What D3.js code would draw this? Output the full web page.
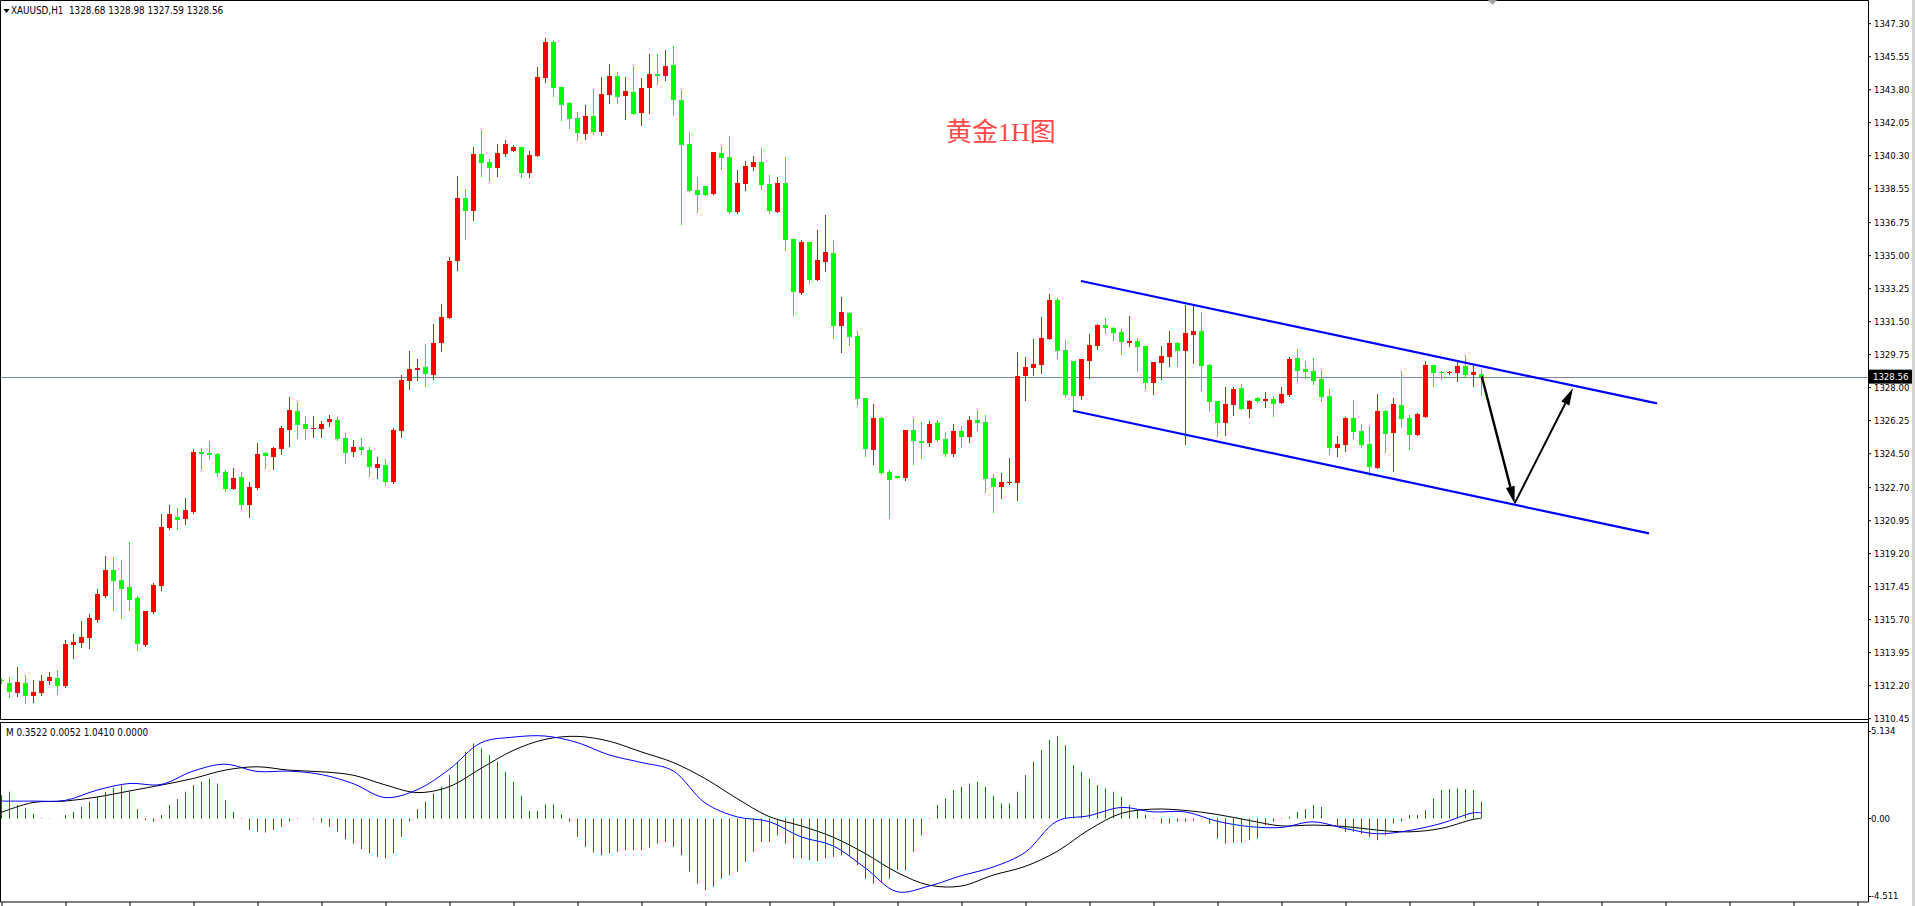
<!DOCTYPE html>
<html>
<head>
<meta charset="utf-8">
<script src="https://cdn.jsdelivr.net/npm/d3@7"></script>
<style>
html, body { margin: 0; padding: 0; background: #fff; overflow: hidden; }
svg { display: block; }
text { font-family: "DejaVu Sans Condensed", "Liberation Sans", sans-serif; }
</style>
</head>
<body>
<svg id="chart"></svg>
<script>
// XAUUSD H1 candles (red = up, green = down)
const opens = [
  1312.50,1312.31,1311.80,1312.31,1311.64,1311.80,1312.44,1312.58,1312.17,1314.35,
  1314.45,1314.72,1315.67,1316.94,1318.31,1317.78,1317.40,1316.82,1314.33,1316.08,
  1317.46,1320.53,1321.12,1321.01,1321.38,1324.56,1324.51,1324.46,1323.50,1322.60,
  1323.24,1321.75,1322.65,1324.51,1324.30,1324.72,1325.73,1326.74,1326.05,1325.78,
  1325.78,1326.15,1326.26,1325.30,1324.56,1324.83,1324.67,1323.71,1323.90,1323.00,
  1325.68,1328.33,1328.93,1329.07,1328.65,1330.34,1331.67,1334.69,1338.03,1337.34,
  1340.37,1339.94,1339.62,1340.37,1340.52,1340.74,1339.36,1340.26,1344.40,1346.30,
  1343.92,1343.07,1342.27,1341.42,1342.38,1341.53,1343.49,1344.50,1343.44,1343.65,
  1342.54,1343.86,1344.61,1344.50,1345.08,1343.23,1340.90,1338.46,1338.67,1338.24,
  1340.42,1340.21,1337.29,1338.77,1339.68,1339.96,1338.78,1337.29,1338.83,1335.86,
  1333.00,1335.70,1333.69,1334.64,1335.12,1331.25,1331.94,1330.72,1327.43,1324.67,
  1326.37,1323.51,1323.29,1323.19,1325.73,1325.15,1325.04,1326.10,1325.26,1324.46,
  1325.68,1325.36,1326.26,1326.16,1323.19,1322.71,1322.92,1322.92,1328.60,1329.02,
  1329.18,1330.56,1332.63,1329.97,1329.39,1327.53,1329.40,1330.20,1331.31,1331.15,
  1330.94,1330.36,1330.45,1330.18,1328.24,1329.30,1329.62,1330.34,1329.93,1330.78,
  1330.98,1329.17,1327.26,1326.12,1327.05,1327.95,1326.84,1327.44,1327.28,1327.37,
  1327.18,1327.58,1329.54,1328.96,1328.87,1328.43,1327.53,1324.79,1324.93,1326.38,
  1325.69,1325.00,1323.73,1326.75,1325.59,1327.05,1326.36,1325.48,1326.43,1329.17,
  1328.82,1328.73,1328.77,1329.12,1328.66,1328.68
];
const highs = [
  1312.60,1312.63,1313.16,1312.74,1312.47,1312.74,1312.90,1313.00,1314.59,1314.91,
  1315.60,1315.97,1317.30,1319.05,1319.00,1318.84,1319.79,1316.93,1316.15,1317.62,
  1321.27,1321.75,1321.59,1322.12,1324.72,1324.77,1325.15,1324.51,1323.61,1323.71,
  1323.50,1322.97,1325.04,1324.56,1324.83,1325.94,1327.48,1327.21,1326.47,1326.47,
  1326.21,1326.52,1326.42,1325.57,1325.20,1325.30,1324.83,1324.30,1324.20,1325.84,
  1328.65,1329.92,1329.50,1330.29,1331.35,1332.41,1334.90,1339.20,1338.51,1340.74,
  1341.64,1340.10,1340.90,1341.11,1340.84,1340.76,1340.52,1344.98,1346.52,1346.41,
  1343.94,1343.12,1342.59,1342.96,1343.81,1344.45,1345.14,1344.71,1344.45,1345.03,
  1344.40,1345.67,1345.67,1345.88,1346.09,1343.76,1341.53,1339.15,1338.69,1340.49,
  1340.79,1341.32,1339.52,1339.99,1340.26,1340.69,1339.25,1339.15,1340.21,1335.88,
  1335.81,1335.72,1336.34,1337.13,1335.81,1332.79,1331.99,1330.98,1327.45,1327.11,
  1326.42,1323.61,1323.31,1325.75,1326.37,1326.16,1326.21,1326.26,1325.63,1326.05,
  1325.95,1326.48,1326.79,1326.53,1323.40,1323.45,1324.25,1329.87,1329.60,1330.56,
  1331.73,1332.94,1332.73,1330.50,1329.41,1329.51,1330.82,1331.35,1331.67,1331.19,
  1331.06,1331.79,1330.62,1330.20,1329.35,1330.20,1330.96,1330.39,1332.35,1332.35,
  1331.97,1329.23,1327.28,1328.02,1328.02,1328.18,1327.30,1327.46,1327.76,1327.55,
  1328.02,1329.62,1330.02,1329.39,1329.54,1328.91,1327.92,1325.43,1326.40,1327.34,
  1326.06,1325.96,1327.64,1326.77,1327.44,1328.87,1326.52,1326.61,1329.40,1329.19,
  1328.87,1328.84,1329.33,1329.72,1329.16,1328.98
];
const lows = [
  1312.30,1311.57,1311.64,1311.27,1311.32,1311.70,1312.28,1311.75,1312.12,1313.66,
  1314.24,1314.19,1315.57,1316.90,1316.20,1315.78,1316.20,1314.08,1314.29,1316.05,
  1317.26,1320.50,1320.48,1320.74,1321.35,1323.66,1324.19,1323.29,1322.49,1322.58,
  1321.54,1321.12,1322.62,1323.71,1323.66,1324.46,1324.88,1325.30,1325.25,1325.36,
  1325.36,1325.94,1325.20,1323.98,1324.35,1324.46,1323.29,1323.18,1322.80,1322.90,
  1325.36,1327.90,1328.38,1328.06,1328.43,1329.92,1331.65,1334.22,1335.86,1336.87,
  1339.20,1338.93,1339.20,1340.26,1340.50,1339.15,1339.15,1340.24,1344.18,1343.44,
  1342.17,1341.74,1341.11,1341.16,1341.42,1341.37,1343.07,1343.07,1342.22,1342.47,
  1341.90,1342.54,1344.08,1344.29,1342.43,1336.65,1338.38,1337.29,1338.17,1338.22,
  1339.57,1337.24,1337.24,1338.46,1339.52,1338.51,1337.24,1337.27,1335.28,1331.83,
  1332.94,1333.53,1333.67,1334.16,1330.61,1329.87,1330.24,1327.06,1324.35,1323.93,
  1323.40,1321.07,1323.17,1323.08,1323.93,1324.25,1324.88,1325.15,1324.35,1324.35,
  1324.83,1325.10,1325.73,1322.45,1321.39,1322.13,1322.87,1322.02,1327.32,1328.65,
  1328.76,1330.54,1329.55,1327.49,1326.75,1327.37,1328.50,1330.04,1330.89,1330.52,
  1329.77,1330.20,1328.87,1327.92,1327.65,1328.45,1329.14,1329.14,1325.00,1329.30,
  1327.87,1326.75,1325.43,1325.48,1326.54,1326.84,1326.42,1327.24,1326.96,1326.49,
  1327.16,1327.55,1328.34,1328.50,1328.18,1327.28,1324.47,1324.37,1324.63,1325.32,
  1324.84,1323.36,1323.71,1324.58,1323.57,1325.90,1324.74,1325.46,1326.41,1328.08,
  1328.45,1328.71,1328.34,1328.55,1328.08,1327.59
];
const closes = [
  1312.42,1311.85,1312.37,1311.64,1311.84,1312.42,1312.63,1312.17,1314.38,1314.49,
  1314.75,1315.76,1317.03,1318.31,1317.74,1317.30,1316.71,1314.38,1316.13,1317.51,
  1320.59,1321.27,1320.96,1321.49,1324.56,1324.46,1324.40,1323.45,1322.60,1323.18,
  1321.75,1322.71,1324.46,1324.35,1324.77,1325.83,1326.79,1326.00,1325.78,1325.83,
  1326.05,1326.31,1325.25,1324.51,1324.83,1324.67,1323.77,1323.93,1323.00,1325.73,
  1328.38,1328.97,1329.02,1328.70,1330.34,1331.72,1334.69,1338.03,1337.34,1340.37,
  1339.91,1339.62,1340.42,1340.90,1340.74,1339.36,1340.31,1344.45,1346.30,1343.86,
  1342.96,1342.22,1341.48,1342.38,1341.53,1343.55,1344.50,1343.39,1343.71,1342.49,
  1343.86,1344.61,1344.50,1345.03,1343.23,1340.84,1338.40,1338.19,1338.19,1340.47,
  1340.15,1337.29,1338.83,1339.73,1339.94,1338.72,1337.35,1338.83,1335.81,1333.05,
  1335.70,1333.69,1334.75,1335.17,1331.25,1331.99,1330.66,1327.38,1324.73,1326.37,
  1323.45,1323.08,1323.19,1325.73,1325.15,1325.04,1326.05,1325.20,1324.46,1325.68,
  1325.36,1326.26,1326.10,1323.14,1322.71,1322.98,1322.98,1328.60,1329.07,1329.23,
  1330.61,1332.63,1329.92,1327.58,1327.53,1329.49,1330.23,1331.31,1331.15,1330.89,
  1330.41,1330.45,1330.15,1328.24,1329.33,1329.65,1330.34,1329.93,1330.85,1330.98,
  1329.14,1327.23,1326.10,1327.11,1327.90,1326.86,1327.28,1327.28,1327.39,1327.12,
  1327.64,1329.51,1328.87,1328.82,1328.34,1327.49,1324.79,1325.00,1326.38,1325.64,
  1324.93,1323.78,1326.75,1325.53,1327.12,1326.33,1325.48,1326.59,1329.17,1328.77,
  1328.77,1328.82,1329.12,1328.64,1328.82,1328.56
];
const lastPrice = 1328.56;
const priceTicks = ["1347.30","1345.55","1343.80","1342.05","1340.30","1338.55","1336.75",
  "1335.00","1333.25","1331.50","1329.75","1328.00","1326.25","1324.50","1322.70","1320.95",
  "1319.20","1317.45","1315.70","1313.95","1312.20","1310.45"];

// MACD pane: histogram per bar, DIF / DEA read at every 4th bar
const macdHist = [
  1.45,1.66,0.83,0.66,0.29,0.04,0.02,0.01,0.21,0.41,
  0.72,1.04,1.35,1.66,1.90,2.07,1.66,0.58,-0.10,-0.21,
  0.21,0.83,1.20,1.66,2.07,2.28,2.48,2.17,1.14,0.41,
  -0.04,-0.72,-0.83,-0.87,-0.72,-0.52,-0.17,-0.04,-0.01,-0.06,
  -0.27,-0.52,-0.83,-1.29,-1.55,-1.90,-2.17,-2.38,-2.48,-2.17,
  -1.14,-0.17,0.58,1.04,1.55,1.97,2.69,3.52,4.14,4.66,
  4.35,3.93,3.52,2.90,2.28,1.41,0.46,0.46,0.87,0.87,
  0.25,-0.21,-1.14,-1.76,-2.11,-2.28,-2.17,-2.07,-1.97,-1.97,
  -1.97,-1.82,-1.55,-1.45,-1.76,-2.28,-3.31,-4.04,-4.45,-4.24,
  -3.73,-3.52,-3.31,-2.69,-2.07,-1.45,-1.45,-1.04,-1.55,-2.48,
  -2.48,-2.59,-2.65,-2.48,-2.38,-2.28,-2.38,-2.90,-3.73,-4.04,
  -3.93,-3.73,-3.21,-3.21,-2.07,-1.04,-0.04,0.83,1.24,1.76,
  1.97,2.17,2.28,1.97,1.41,0.93,0.93,1.66,2.69,3.52,
  4.24,4.87,5.13,4.55,3.31,2.90,2.48,2.07,1.86,1.66,
  1.35,0.83,0.52,0.21,-0.04,-0.31,-0.31,-0.21,-0.21,-0.12,
  -0.04,-0.31,-1.24,-1.55,-1.49,-1.49,-1.35,-1.24,-0.41,-0.21,
  -0.04,0.10,0.41,0.58,0.83,0.72,-0.01,-0.41,-0.83,-0.83,
  -0.95,-1.14,-1.35,-1.04,-0.31,-0.17,0.21,0.21,0.52,1.24,
  1.76,1.82,1.86,1.82,1.76,1.041
];
const lineBars = [0,4,8,12,16,20,24,28,32,36,40,44,48,52,56,60,64,68,72,76,80,84,88,92,
  96,100,104,108,112,116,120,124,128,132,136,140,144,148,152,156,160,164,168,172,176,180,184,185];
const macdDif = [1.08,1.08,1.12,1.76,2.17,2.11,2.94,3.37,2.92,2.94,2.73,2.17,1.30,1.78,3.04,4.70,
  5.05,5.12,4.72,3.95,3.48,2.96,0.97,0.10,-0.19,-1.14,-1.70,-3.06,-4.55,-4.20,-3.56,-3.02,
  -2.11,-0.17,0.17,0.68,0.41,0.41,-0.17,-0.50,-0.56,-0.21,-0.62,-0.95,-0.75,-0.31,0.35,0.3522];
const macdDea = [0.37,0.99,1.08,1.33,1.70,2.07,2.48,3.00,3.21,3.00,2.90,2.69,2.09,1.61,1.97,3.11,
  4.22,4.91,5.10,4.80,4.14,3.48,2.48,1.24,0.12,-0.46,-1.16,-2.17,-3.35,-4.14,-4.20,-3.52,
  -2.98,-2.05,-0.70,0.31,0.58,0.50,0.25,-0.12,-0.46,-0.41,-0.50,-0.72,-0.83,-0.62,-0.06,0.0052];
const macdLabels = ["5.134", "0.00", "-4.511"];

// drawn objects: channel and arrows (bar index, price)
const upperBars = [135, 207], upperPrices = [1333.63, 1327.14];
const lowerBars = [134, 206], lowerPrices = [1326.75, 1320.25];
const arrowBars = [185.1, 189.2, 196.5], arrowPrices = [1328.56, 1321.84, 1327.94];

const width = 1915, height = 906,
    axisX = 1868, mainBottom = 719.5, macdTop = 722.5, macdBottom = 902;

const svg = d3.select('#chart')
    .attr('width', width)
    .attr('height', height);

let x = d3.scaleLinear().domain([0, 185]).range([1, 1481]);
let y = d3.scaleLinear().domain([1310.45, 1347.30]).range([718.2, 23.2]);
let my = d3.scaleLinear().domain([-4.511, 5.134]).range([891.1, 735.8]);

// frames
svg.append('rect').attr('x', 1912).attr('y', 0).attr('width', 3).attr('height', height).attr('fill', '#d4d4d4');
svg.append('path')
    .attr('d', `M0.5,${mainBottom}V0.5H${axisX + 0.5}V${macdBottom}M0.5,${macdTop}H${axisX + 0.5}M0.5,${macdTop}V${macdBottom}H${axisX + 0.5}M0.5,${mainBottom}H${axisX + 0.5}`)
    .attr('fill', 'none').attr('stroke', '#000').attr('stroke-width', 1);

// clip for the panes
svg.append('clipPath').attr('id', 'mainClip')
    .append('rect').attr('x', 1).attr('y', 1).attr('width', axisX - 1).attr('height', mainBottom - 1.5);
svg.append('clipPath').attr('id', 'macdClip')
    .append('rect').attr('x', 1).attr('y', macdTop + 0.5).attr('width', axisX - 1).attr('height', macdBottom - macdTop - 1);

let main_g = svg.append('g').attr('clip-path', 'url(#mainClip)');

// last price line
main_g.append('line')
    .attr('x1', 0).attr('x2', axisX)
    .attr('y1', Math.round(y(lastPrice)) + 0.5).attr('y2', Math.round(y(lastPrice)) + 0.5)
    .attr('stroke', '#778899').attr('stroke-width', 1);

// candles
let bars = d3.range(opens.length).map(i => ({i: i, o: opens[i], h: highs[i], l: lows[i], c: closes[i]}));
let candle = main_g.selectAll('g.candle')
    .data(bars)
    .join('g')
    .attr('class', 'candle')
    .attr('fill', d => d.c > d.o ? '#ff0000' : '#00ff00')
    .attr('stroke', d => d.c > d.o ? '#ff0000' : '#00ff00');

candle.append('line')
    .attr('x1', d => Math.round(x(d.i)) + 0.5)
    .attr('x2', d => Math.round(x(d.i)) + 0.5)
    .attr('y1', d => Math.round(y(d.h)))
    .attr('y2', d => Math.round(y(d.l)) + 1)
    .attr('stroke-width', 1);

candle.append('rect')
    .attr('x', d => Math.round(x(d.i)) - 2)
    .attr('y', d => Math.round(y(Math.max(d.o, d.c))))
    .attr('width', 5)
    .attr('height', d => Math.max(1, Math.round(y(Math.min(d.o, d.c))) - Math.round(y(Math.max(d.o, d.c)))))
    .attr('stroke', 'none');

// channel lines
[[upperBars, upperPrices], [lowerBars, lowerPrices]].forEach(([b, p]) => {
    main_g.append('line')
        .attr('x1', x(b[0])).attr('y1', y(p[0]))
        .attr('x2', x(b[1])).attr('y2', y(p[1]))
        .attr('stroke', '#0000ff').attr('stroke-width', 2.2);
});

// arrows
function arrow(i0, i1, w) {
    let x0 = x(arrowBars[i0]), y0 = y(arrowPrices[i0]),
        x1 = x(arrowBars[i1]), y1 = y(arrowPrices[i1]);
    let a = Math.atan2(y1 - y0, x1 - x0), len = 17, hw = 4.5;
    let bx = x1 - len * Math.cos(a), by = y1 - len * Math.sin(a);
    main_g.append('line')
        .attr('x1', x0).attr('y1', y0).attr('x2', bx).attr('y2', by)
        .attr('stroke', '#000').attr('stroke-width', w);
    main_g.append('path')
        .attr('d', `M${x1},${y1}L${bx + hw * Math.sin(a)},${by - hw * Math.cos(a)}L${bx - hw * Math.sin(a)},${by + hw * Math.cos(a)}Z`)
        .attr('fill', '#000');
}
arrow(0, 1, 2.4);
arrow(1, 2, 2);

// title
svg.append('text')
    .attr('x', 946).attr('y', 141)
    .attr('fill', '#ff4848')
    .style('font-family', '"Liberation Serif", "Noto Sans CJK SC", serif')
    .style('font-size', '26px')
    .text('黄金1H图');

// header
svg.append('path').attr('d', 'M3.5,9L9.5,9L6.5,13Z').attr('fill', '#000');
svg.append('text')
    .attr('x', 11).attr('y', 11).attr('dy', '0.35em')
    .style('font-size', '9.8px')
    .attr('xml:space', 'preserve')
    .text('XAUUSD,H1  1328.68 1328.98 1327.59 1328.56');

// chart shift marker
svg.append('path').attr('d', 'M1488,0L1497,0L1492.5,5Z').attr('fill', '#a0a0a0');

// price axis
let yAxis = svg.append('g')
    .attr('transform', `translate(${axisX}, 0)`)
    .call(d3.axisRight(y)
        .tickValues(priceTicks.map(Number))
        .tickFormat((d, i) => priceTicks[i])
        .tickSize(3)
        .tickPadding(3));
yAxis.select('.domain').remove();
yAxis.selectAll('text').style('font-size', '9.5px').style('font-family', '"DejaVu Sans Condensed", "Liberation Sans", sans-serif').attr('fill', '#000');
yAxis.selectAll('line').attr('stroke', '#000');

// last price label
svg.append('rect')
    .attr('x', axisX + 1).attr('y', y(lastPrice) - 7)
    .attr('width', 43).attr('height', 14)
    .attr('fill', '#000');
svg.append('text')
    .attr('x', axisX + 5).attr('y', y(lastPrice)).attr('dy', '0.35em')
    .attr('fill', '#fff')
    .style('font-size', '9.5px')
    .text(lastPrice.toFixed(2));

// MACD pane
let macd_g = svg.append('g').attr('clip-path', 'url(#macdClip)');

macd_g.selectAll('line.hist')
    .data(macdHist)
    .join('line')
    .attr('class', 'hist')
    .attr('x1', (d, i) => Math.round(x(i)) + 0.5)
    .attr('x2', (d, i) => Math.round(x(i)) + 0.5)
    .attr('y1', my(0))
    .attr('y2', d => my(d))
    .attr('stroke', d => d >= 0 ? '#008000' : '#ff0000')
    .attr('stroke-width', 1);

let macdLine = d3.line()
    .x(d => x(d[0]))
    .y(d => my(d[1]))
    .curve(d3.curveCatmullRom);

macd_g.append('path')
    .datum(lineBars.map((b, i) => [b, macdDea[i]]))
    .attr('d', macdLine)
    .attr('fill', 'none').attr('stroke', '#000').attr('stroke-width', 1);

macd_g.append('path')
    .datum(lineBars.map((b, i) => [b, macdDif[i]]))
    .attr('d', macdLine)
    .attr('fill', 'none').attr('stroke', '#0000ff').attr('stroke-width', 1);

svg.append('text')
    .attr('x', 6).attr('y', 733).attr('dy', '0.35em')
    .style('font-size', '9.8px')
    .text('M 0.3522 0.0052 1.0410 0.0000');

// MACD scale labels
let macdLabelY = [macdTop + 8, my(0), macdBottom - 6];
macdLabels.forEach((t, i) => {
    svg.append('line')
        .attr('x1', axisX).attr('x2', axisX + 3)
        .attr('y1', Math.round(macdLabelY[i]) + 0.5).attr('y2', Math.round(macdLabelY[i]) + 0.5)
        .attr('stroke', '#000');
    svg.append('text')
        .attr('x', axisX + 3).attr('y', macdLabelY[i]).attr('dy', '0.35em')
        .style('font-size', '9.5px')
        .text(t);
});

// time axis ticks
let xAxis = svg.append('g')
    .attr('transform', `translate(0, ${macdBottom})`)
    .call(d3.axisBottom(x)
        .tickValues(d3.range(0, 233, 8))
        .tickSize(4)
        .tickFormat(''));
xAxis.select('.domain').remove();
xAxis.selectAll('line').attr('stroke', '#000').attr('transform', 'translate(0.5,0)');
</script>
</body>
</html>
